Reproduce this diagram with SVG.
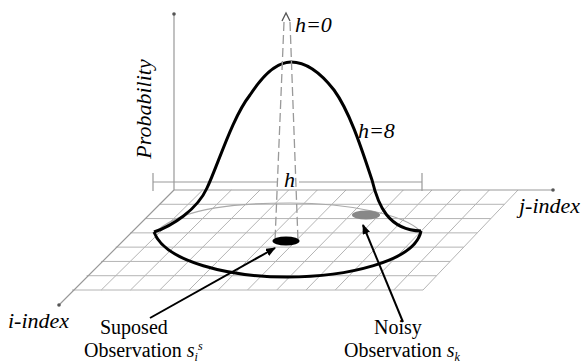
<svg xmlns="http://www.w3.org/2000/svg" width="584" height="364" viewBox="0 0 584 364">
<defs>
<style>
.grid{stroke:#b4b4b4;stroke-width:1;fill:none}
.axis{stroke:#999;stroke-width:1.2;fill:none}
.dash{stroke:#999;stroke-width:1.3;fill:none;stroke-dasharray:9 4}
.bell{stroke:#000;stroke-width:3;fill:none;stroke-linejoin:round}
.arrow{stroke:#000;stroke-width:2;fill:none}
.it{font-style:italic;font-size:22px;fill:#000}
.rm{font-size:20px;fill:#000}
</style>
<marker id="ah" viewBox="0 0 10 8" refX="9" refY="4" markerWidth="5" markerHeight="4" orient="auto" markerUnits="strokeWidth">
<path d="M0,0 L10,4 L0,8 Z" fill="#000"/>
</marker>
</defs>
<rect width="584" height="364" fill="#fff"/>
<g id="grid">
<path class="grid" d="M159.43,204.29H504.43M144.86,218.57H490.86M130.29,232.86H477.29M115.71,247.14H463.71M101.14,261.43H450.14M86.57,275.71H436.57M72,290H423"/>
<path class="grid" d="M202.67,190L101.25,290M231.33,190L130.5,290M260,190L159.75,290M288.67,190L189,290M317.33,190L218.25,290M346,190L247.5,290M374.67,190L276.75,290M403.33,190L306,290M432,190L335.25,290M460.67,190L364.5,290M489.33,190L393.75,290M518,190L423,290"/>
</g>
<g id="axes">
<path class="axis" d="M174,190V14M174,190H553M174,190L59,305"/>
<circle cx="174" cy="14" r="1.8" fill="#555"/>
<circle cx="553" cy="190" r="1.8" fill="#555"/>
<circle cx="59" cy="305" r="1.8" fill="#555"/>
<path class="axis" d="M153,182H277M153,173V191M299,182H422M422,173V191"/>
</g>
<g id="base-ellipse">
<path d="M158,230 C185,207 240,203 290,203 C350,203 405,215 420,231" stroke="#aaa" stroke-width="1.2" fill="none"/>
</g>
<g id="bell">
<path class="bell" d="M154,232 C172,226 197,210 207,188 C218,165 232,118 250,95 C263,75 276,62 291,62 C306,62 320,72 334,90 C350,112 362,150 372,180 C378,205 388,230 421,231"/>
<path class="bell" d="M154,232 C165,262 230,277 287,277 C345,277 415,262 421,231"/>
</g>
<g id="cone">
<path class="dash" d="M284,22L275,241M290,22L298,241"/>
<path d="M282,21L286,13L290,21" stroke="#555" stroke-width="1.3" fill="none"/>
</g>
<g id="supposed-obs">
<ellipse cx="286" cy="241" rx="13.5" ry="4.5" fill="#000"/>
</g>
<g id="noisy-obs">
<ellipse cx="366" cy="215" rx="14" ry="4.5" fill="#888"/>
</g>
<g id="connectors">
<path class="arrow" d="M150,318L275,248" marker-end="url(#ah)"/>
<path class="arrow" d="M403,322L363,225" marker-end="url(#ah)"/>
</g>
<g id="labels">
<text class="it" font-family="Liberation Serif" x="295" y="32">h=0</text>
<text class="it" font-family="Liberation Serif" x="358" y="138">h=8</text>
<text class="it" font-family="Liberation Serif" x="284" y="187">h</text>
<text class="it" font-family="Liberation Serif" x="519" y="213">j-index</text>
<text class="it" font-family="Liberation Serif" x="8" y="328">i-index</text>
<text class="it" font-family="Liberation Serif" text-anchor="middle" transform="translate(151,109) rotate(-90)">Probability</text>
<text class="rm" font-family="Liberation Serif" x="100" y="334">Suposed</text>
<text class="rm" font-family="Liberation Serif" x="84" y="357">Observation <tspan font-style="italic">s</tspan><tspan font-style="italic" font-size="12" dy="4">i</tspan><tspan font-style="italic" font-size="12" dy="-11">s</tspan></text>
<text class="rm" font-family="Liberation Serif" x="374" y="334">Noisy</text>
<text class="rm" font-family="Liberation Serif" x="344" y="357">Observation <tspan font-style="italic">s</tspan><tspan font-style="italic" font-size="12" dy="4">k</tspan></text>
</g>
</svg>
